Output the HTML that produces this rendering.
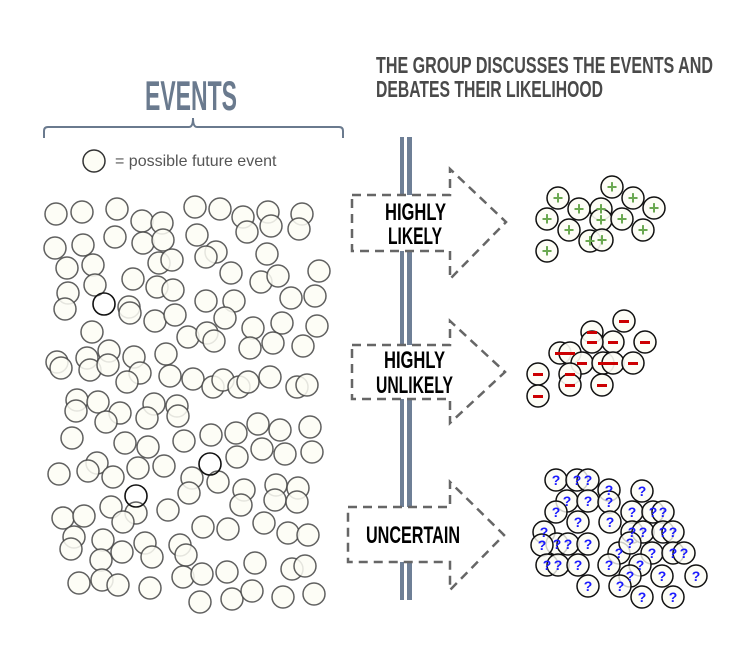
<!DOCTYPE html>
<html><head><meta charset="utf-8"><style>html,body{margin:0;padding:0;background:#fff}</style></head>
<body>
<svg width="750" height="640" viewBox="0 0 750 640" xmlns="http://www.w3.org/2000/svg" font-family="Liberation Sans, sans-serif">
<rect width="750" height="640" fill="#fff"/>
<text x="145" y="110" font-size="42" fill="#6a7a8e" font-weight="bold" textLength="92" lengthAdjust="spacingAndGlyphs">EVENTS</text>
<path d="M44,138 L44,131 Q44,127 48,127 L189,127 Q193,127 193,118 Q193,127 197,127 L339,127 Q343,127 343,131 L343,138" fill="none" stroke="#6a7a8e" stroke-width="2"/>
<circle cx="94" cy="161" r="11" fill="#fdfdf5" stroke="#333" stroke-width="1.5"/>
<text x="115" y="166" font-size="16" fill="#555">= possible future event</text>
<text x="376" y="73" font-size="23" fill="#4a4a4a" font-weight="bold" textLength="337" lengthAdjust="spacingAndGlyphs">THE GROUP DISCUSSES THE EVENTS AND</text>
<text x="376" y="97" font-size="23" fill="#4a4a4a" font-weight="bold" textLength="227" lengthAdjust="spacingAndGlyphs">DEBATES THEIR LIKELIHOOD</text>
<g fill="#6e7f96"><rect x="400" y="137" width="4" height="463"/><rect x="407" y="137" width="5" height="463"/></g>
<g fill="#fff" stroke="#666" stroke-width="2.5" stroke-dasharray="9,6">
<path d="M352,195 L450,195 L450,169 L506,222 L450,279 L450,251 L352,251 Z"/>
<path d="M352,345 L450,345 L450,321 L505,372 L450,423 L450,399 L352,399 Z"/>
<path d="M348,507 L450,507 L450,482 L504,535 L450,590 L450,562 L348,562 Z"/>
</g>
<g font-size="24" fill="#000" font-weight="bold">
<text x="385" y="220" textLength="61" lengthAdjust="spacingAndGlyphs">HIGHLY</text>
<text x="388" y="244" textLength="54" lengthAdjust="spacingAndGlyphs">LIKELY</text>
<text x="384" y="368" textLength="61" lengthAdjust="spacingAndGlyphs">HIGHLY</text>
<text x="376" y="393" textLength="77" lengthAdjust="spacingAndGlyphs">UNLIKELY</text>
<text x="366" y="543" textLength="94" lengthAdjust="spacingAndGlyphs">UNCERTAIN</text>
</g>
<g fill="#fdfdf5" stroke="#444" stroke-width="1.5" fill-opacity="0.85" stroke-opacity="0.85">
<circle cx="56" cy="214" r="11"/><circle cx="82" cy="212" r="11"/><circle cx="117" cy="209" r="11"/><circle cx="142" cy="221" r="11"/><circle cx="162" cy="223" r="11"/><circle cx="195" cy="207" r="11"/><circle cx="220" cy="209" r="11"/><circle cx="243" cy="217" r="11"/><circle cx="268" cy="212" r="11"/><circle cx="302" cy="214" r="11"/><circle cx="115" cy="237" r="11"/><circle cx="143" cy="243" r="11"/><circle cx="163" cy="240" r="11"/><circle cx="197" cy="235" r="11"/><circle cx="247" cy="232" r="11"/><circle cx="271" cy="226" r="11"/><circle cx="299" cy="229" r="11"/><circle cx="55" cy="248" r="11"/><circle cx="83" cy="245" r="11"/><circle cx="216" cy="252" r="11"/><circle cx="206" cy="257" r="11"/><circle cx="159" cy="263" r="11"/><circle cx="172" cy="260" r="11"/><circle cx="267" cy="254" r="11"/><circle cx="67" cy="268" r="11"/><circle cx="93" cy="265" r="11"/><circle cx="231" cy="273" r="11"/><circle cx="261" cy="282" r="11"/><circle cx="278" cy="276" r="11"/><circle cx="319" cy="271" r="11"/><circle cx="133" cy="279" r="11"/><circle cx="157" cy="287" r="11"/><circle cx="173" cy="290" r="11"/><circle cx="68" cy="293" r="11"/><circle cx="95" cy="285" r="11"/><circle cx="129" cy="307" r="11"/><circle cx="130" cy="313" r="11"/><circle cx="65" cy="309" r="11"/><circle cx="206" cy="301" r="11"/><circle cx="234" cy="301" r="11"/><circle cx="291" cy="298" r="11"/><circle cx="315" cy="296" r="11"/><circle cx="225" cy="318" r="11"/><circle cx="155" cy="321" r="11"/><circle cx="175" cy="315" r="11"/><circle cx="253" cy="328" r="11"/><circle cx="282" cy="323" r="11"/><circle cx="317" cy="326" r="11"/><circle cx="92" cy="332" r="11"/><circle cx="188" cy="337" r="11"/><circle cx="207" cy="333" r="11"/><circle cx="214" cy="341" r="11"/><circle cx="250" cy="348" r="11"/><circle cx="273" cy="343" r="11"/><circle cx="303" cy="346" r="11"/><circle cx="57" cy="362" r="11"/><circle cx="61" cy="368" r="11"/><circle cx="87" cy="358" r="11"/><circle cx="109" cy="351" r="11"/><circle cx="90" cy="370" r="11"/><circle cx="108" cy="365" r="11"/><circle cx="134" cy="357" r="11"/><circle cx="140" cy="373" r="11"/><circle cx="127" cy="382" r="11"/><circle cx="166" cy="354" r="11"/><circle cx="170" cy="376" r="11"/><circle cx="193" cy="379" r="11"/><circle cx="213" cy="387" r="11"/><circle cx="223" cy="380" r="11"/><circle cx="239" cy="387" r="11"/><circle cx="248" cy="382" r="11"/><circle cx="270" cy="377" r="11"/><circle cx="297" cy="387" r="11"/><circle cx="307" cy="385" r="11"/>
<circle cx="77" cy="400" r="11"/><circle cx="98" cy="402" r="11"/><circle cx="76" cy="411" r="11"/><circle cx="120" cy="413" r="11"/><circle cx="106" cy="422" r="11"/><circle cx="154" cy="404" r="11"/><circle cx="147" cy="418" r="11"/><circle cx="177" cy="406" r="11"/><circle cx="178" cy="416" r="11"/><circle cx="72" cy="438" r="11"/><circle cx="125" cy="443" r="11"/><circle cx="148" cy="447" r="11"/><circle cx="184" cy="441" r="11"/><circle cx="211" cy="435" r="11"/><circle cx="236" cy="433" r="11"/><circle cx="258" cy="424" r="11"/><circle cx="280" cy="430" r="11"/><circle cx="310" cy="427" r="11"/><circle cx="237" cy="457" r="11"/><circle cx="262" cy="449" r="11"/><circle cx="285" cy="454" r="11"/><circle cx="312" cy="452" r="11"/><circle cx="59" cy="474" r="11"/><circle cx="97" cy="463" r="11"/><circle cx="88" cy="471" r="11"/><circle cx="113" cy="477" r="11"/><circle cx="138" cy="468" r="11"/><circle cx="164" cy="466" r="11"/><circle cx="192" cy="478" r="11"/><circle cx="218" cy="482" r="11"/><circle cx="189" cy="493" r="11"/><circle cx="244" cy="490" r="11"/><circle cx="241" cy="505" r="11"/><circle cx="276" cy="485" r="11"/><circle cx="298" cy="488" r="11"/><circle cx="275" cy="500" r="11"/><circle cx="297" cy="502" r="11"/><circle cx="111" cy="507" r="11"/><circle cx="136" cy="513" r="11"/><circle cx="123" cy="522" r="11"/><circle cx="168" cy="510" r="11"/><circle cx="63" cy="518" r="11"/><circle cx="84" cy="516" r="11"/><circle cx="74" cy="537" r="11"/><circle cx="71" cy="549" r="11"/><circle cx="103" cy="540" r="11"/><circle cx="101" cy="560" r="11"/><circle cx="122" cy="552" r="11"/><circle cx="145" cy="543" r="11"/><circle cx="152" cy="557" r="11"/><circle cx="180" cy="545" r="11"/><circle cx="186" cy="555" r="11"/><circle cx="203" cy="527" r="11"/><circle cx="228" cy="529" r="11"/><circle cx="264" cy="523" r="11"/><circle cx="288" cy="533" r="11"/><circle cx="308" cy="535" r="11"/><circle cx="79" cy="583" r="11"/><circle cx="102" cy="580" r="11"/><circle cx="118" cy="585" r="11"/><circle cx="150" cy="588" r="11"/><circle cx="183" cy="577" r="11"/><circle cx="202" cy="574" r="11"/><circle cx="227" cy="572" r="11"/><circle cx="255" cy="563" r="11"/><circle cx="292" cy="569" r="11"/><circle cx="305" cy="566" r="11"/><circle cx="200" cy="602" r="11"/><circle cx="232" cy="599" r="11"/><circle cx="252" cy="591" r="11"/><circle cx="283" cy="597" r="11"/><circle cx="314" cy="594" r="11"/>
</g>
<g fill="none" stroke="#111" stroke-width="1.6">
<circle cx="104" cy="304" r="11"/><circle cx="210" cy="464" r="11"/><circle cx="136" cy="496" r="11"/>
</g>
<g fill="#fdfdf5" stroke="#111" stroke-width="1.5" fill-opacity="0.9">
<circle cx="558" cy="198" r="11"/><circle cx="612" cy="187" r="11"/><circle cx="633" cy="198" r="11"/><circle cx="654" cy="208" r="11"/><circle cx="579" cy="209" r="11"/><circle cx="601" cy="209" r="11"/><circle cx="547" cy="219" r="11"/><circle cx="569" cy="230" r="11"/><circle cx="601" cy="220" r="11"/><circle cx="622" cy="219" r="11"/><circle cx="643" cy="230" r="11"/><circle cx="590" cy="241" r="11"/><circle cx="602" cy="240" r="11"/><circle cx="547" cy="251" r="11"/>
</g>
<g font-size="18" fill="#6aa84f" text-anchor="middle" font-weight="bold">
<text x="558" y="204">+</text><text x="612" y="193">+</text><text x="633" y="204">+</text><text x="654" y="214">+</text><text x="579" y="215">+</text><text x="601" y="215">+</text><text x="547" y="225">+</text><text x="569" y="236">+</text><text x="601" y="226">+</text><text x="622" y="225">+</text><text x="643" y="236">+</text><text x="590" y="247">+</text><text x="602" y="246">+</text><text x="547" y="257">+</text>
</g>
<g fill="#fdfdf5" stroke="#111" stroke-width="1.5" fill-opacity="0.9">
<circle cx="624" cy="321" r="11"/><circle cx="592" cy="332" r="11"/><circle cx="613" cy="342" r="11"/><circle cx="645" cy="342" r="11"/><circle cx="592" cy="342" r="11"/><circle cx="560" cy="353" r="11"/><circle cx="570" cy="353" r="11"/><circle cx="582" cy="363" r="11"/><circle cx="603" cy="363" r="11"/><circle cx="613" cy="363" r="11"/><circle cx="633" cy="363" r="11"/><circle cx="538" cy="374" r="11"/><circle cx="570" cy="374" r="11"/><circle cx="570" cy="385" r="11"/><circle cx="602" cy="385" r="11"/><circle cx="538" cy="396" r="11"/>
</g>
<g fill="#cc0000">
<rect x="619" y="320" width="10" height="3"/><rect x="587" y="331" width="10" height="3"/><rect x="608" y="341" width="10" height="3"/><rect x="640" y="341" width="10" height="3"/><rect x="587" y="341" width="10" height="3"/><rect x="555" y="352" width="10" height="3"/><rect x="565" y="352" width="10" height="3"/><rect x="577" y="362" width="10" height="3"/><rect x="598" y="362" width="10" height="3"/><rect x="608" y="362" width="10" height="3"/><rect x="628" y="362" width="10" height="3"/><rect x="533" y="373" width="10" height="3"/><rect x="565" y="373" width="10" height="3"/><rect x="565" y="384" width="10" height="3"/><rect x="597" y="384" width="10" height="3"/><rect x="533" y="395" width="10" height="3"/>
</g>
<g fill="#fdfdf5" stroke="#111" stroke-width="1.5" fill-opacity="0.8">
<circle cx="556" cy="480" r="11"/><circle cx="577" cy="480" r="11"/><circle cx="588" cy="480" r="11"/><circle cx="609" cy="490" r="11"/><circle cx="642" cy="491" r="11"/><circle cx="567" cy="501" r="11"/><circle cx="588" cy="501" r="11"/><circle cx="609" cy="502" r="11"/><circle cx="556" cy="512" r="11"/><circle cx="578" cy="522" r="11"/><circle cx="610" cy="522" r="11"/><circle cx="632" cy="512" r="11"/><circle cx="653" cy="512" r="11"/><circle cx="663" cy="512" r="11"/><circle cx="544" cy="532" r="11"/><circle cx="557" cy="544" r="11"/><circle cx="568" cy="544" r="11"/><circle cx="588" cy="544" r="11"/><circle cx="542" cy="545" r="11"/><circle cx="632" cy="532" r="11"/><circle cx="643" cy="532" r="11"/><circle cx="663" cy="532" r="11"/><circle cx="673" cy="532" r="11"/><circle cx="619" cy="553" r="11"/><circle cx="630" cy="543" r="11"/><circle cx="652" cy="553" r="11"/><circle cx="673" cy="553" r="11"/><circle cx="684" cy="553" r="11"/><circle cx="547" cy="565" r="11"/><circle cx="558" cy="565" r="11"/><circle cx="578" cy="565" r="11"/><circle cx="609" cy="565" r="11"/><circle cx="640" cy="565" r="11"/><circle cx="630" cy="576" r="11"/><circle cx="662" cy="576" r="11"/><circle cx="696" cy="576" r="11"/><circle cx="588" cy="586" r="11"/><circle cx="620" cy="586" r="11"/><circle cx="642" cy="597" r="11"/><circle cx="673" cy="597" r="11"/>
</g>
<g font-size="14" fill="#1a1aff" text-anchor="middle" font-weight="bold">
<text x="556" y="485">?</text><text x="577" y="485">?</text><text x="588" y="485">?</text><text x="609" y="495">?</text><text x="642" y="496">?</text><text x="567" y="506">?</text><text x="588" y="506">?</text><text x="609" y="507">?</text><text x="556" y="517">?</text><text x="578" y="527">?</text><text x="610" y="527">?</text><text x="632" y="517">?</text><text x="653" y="517">?</text><text x="663" y="517">?</text><text x="544" y="537">?</text><text x="557" y="549">?</text><text x="568" y="549">?</text><text x="588" y="549">?</text><text x="542" y="550">?</text><text x="632" y="537">?</text><text x="643" y="537">?</text><text x="663" y="537">?</text><text x="673" y="537">?</text><text x="619" y="558">?</text><text x="630" y="548">?</text><text x="652" y="558">?</text><text x="673" y="558">?</text><text x="684" y="558">?</text><text x="547" y="570">?</text><text x="558" y="570">?</text><text x="578" y="570">?</text><text x="609" y="570">?</text><text x="640" y="570">?</text><text x="630" y="581">?</text><text x="662" y="581">?</text><text x="696" y="581">?</text><text x="588" y="591">?</text><text x="620" y="591">?</text><text x="642" y="602">?</text><text x="673" y="602">?</text>
</g>
</svg>
</body></html>
